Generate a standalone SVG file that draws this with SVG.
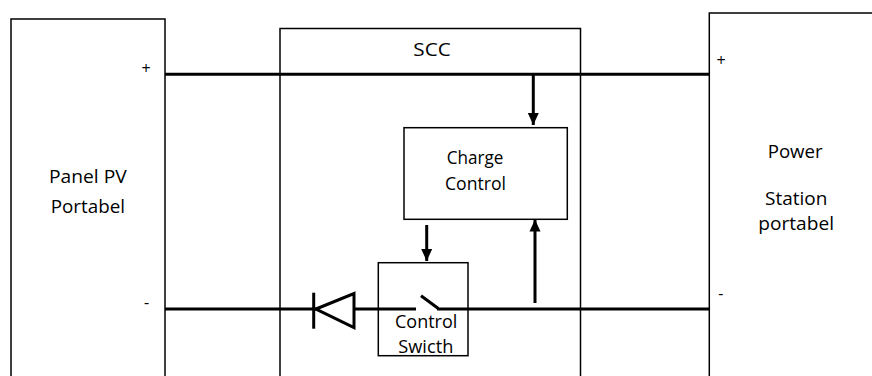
<svg xmlns="http://www.w3.org/2000/svg" width="872" height="376" viewBox="0 0 872 376">
<style>
.box{fill:#fff;stroke:#000;stroke-width:1.5}
.wire{stroke:#000;stroke-width:3;fill:none}
.t{font-family:"Open Sans","Noto Sans",sans-serif;font-size:17.5px;fill:#000}
.s{font-family:"Open Sans","Noto Sans",sans-serif;font-size:16px;fill:#000}
</style>
<defs>
<marker id="ah" markerUnits="userSpaceOnUse" markerWidth="12" markerHeight="12" viewBox="0 0 12 12" refX="12" refY="6" orient="auto">
<path d="M0,0.5 L12,6 L0,11.5 z" fill="#000"/>
</marker>
</defs>
<rect width="872" height="376" fill="#fff"/>
<g id="panel-pv">
<rect class="box" x="11" y="19" width="154" height="370"/>
<text class="t" x="49" y="183.3" textLength="77.7" lengthAdjust="spacingAndGlyphs">Panel PV</text>
<text class="t" x="50.7" y="213.3" textLength="74.3" lengthAdjust="spacingAndGlyphs">Portabel</text>
<text class="s" x="146" y="74" text-anchor="middle">+</text>
<text class="s" x="146.5" y="307.6" text-anchor="middle">-</text>
</g>
<g id="scc">
<rect class="box" x="280" y="28.5" width="300.5" height="360"/>
<text class="t" x="413.3" y="56" textLength="37.4" lengthAdjust="spacingAndGlyphs">SCC</text>
</g>
<g id="power-station">
<rect class="box" x="709.3" y="13" width="180" height="380"/>
<text class="t" x="767.7" y="157.7" textLength="55" lengthAdjust="spacingAndGlyphs">Power</text>
<text class="t" x="765" y="205" textLength="62.3" lengthAdjust="spacingAndGlyphs">Station</text>
<text class="t" x="758.3" y="230" textLength="75.7" lengthAdjust="spacingAndGlyphs">portabel</text>
<text class="s" x="721.2" y="66" text-anchor="middle">+</text>
<text class="s" x="720.8" y="299.3" text-anchor="middle">-</text>
</g>
<g id="charge-control">
<rect class="box" x="404" y="127.7" width="163.3" height="91.6"/>
<text class="t" x="446.7" y="164" textLength="56.6" lengthAdjust="spacingAndGlyphs">Charge</text>
<text class="t" x="445" y="190" textLength="61" lengthAdjust="spacingAndGlyphs">Control</text>
</g>
<g id="control-switch">
<rect class="box" x="378.3" y="262.7" width="89.7" height="93"/>
<text class="t" x="395" y="328.3" textLength="62.3" lengthAdjust="spacingAndGlyphs">Control</text>
<text class="t" x="398.3" y="353.3" textLength="55" lengthAdjust="spacingAndGlyphs">Swicth</text>
</g>
<g id="connectors">
<line class="wire" x1="165" y1="74.3" x2="709.3" y2="74.3"/>
<line class="wire" x1="165" y1="309" x2="416" y2="309"/>
<line class="wire" x1="421" y1="295.7" x2="438.3" y2="308.5"/>
<line class="wire" x1="437" y1="309" x2="709.3" y2="309"/>
<polygon points="316,309 354,293.5 354,327.5" fill="#fff" stroke="#000" stroke-width="3" stroke-linejoin="miter"/>
<line class="wire" x1="313.7" y1="292.7" x2="313.7" y2="328.7"/>
<line class="wire" x1="533.3" y1="74.3" x2="533.3" y2="125" marker-end="url(#ah)"/>
<line class="wire" x1="426.7" y1="225" x2="426.7" y2="261" marker-end="url(#ah)"/>
<line class="wire" x1="535" y1="303" x2="535" y2="219.5" marker-end="url(#ah)"/>
</g>
</svg>
